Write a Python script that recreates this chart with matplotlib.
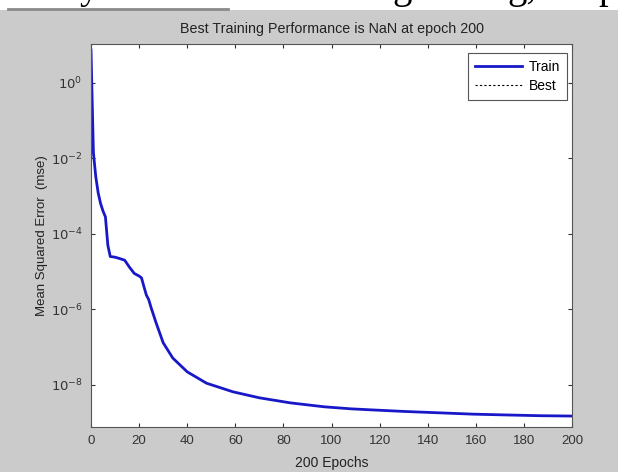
import numpy as np
import matplotlib
matplotlib.use("Agg")
import matplotlib.pyplot as plt
from matplotlib.patches import Rectangle
from matplotlib.lines import Line2D

# training record
epochs = [0, 1, 2, 3, 4, 5, 6, 7, 8, 10, 12, 14, 16, 18, 20, 21, 22, 23, 24, 25,
          27, 30, 34, 40, 48, 59, 70, 83, 97, 108, 117, 131, 145, 159, 173, 187, 200]
train_mse = [7.4, 1.4e-2, 3.2e-3, 1.2e-3, 6.3e-4, 4.0e-4, 2.8e-4, 5.0e-5, 2.5e-5,
             2.4e-5, 2.2e-5, 2.0e-5, 1.3e-5, 8.9e-6, 7.6e-6, 6.8e-6, 4.0e-6,
             2.4e-6, 1.8e-6, 1.1e-6, 4.5e-7, 1.3e-7, 5.1e-8, 2.2e-8, 1.1e-8,
             6.5e-9, 4.5e-9, 3.3e-9, 2.6e-9, 2.3e-9, 2.15e-9, 1.95e-9, 1.8e-9,
             1.66e-9, 1.58e-9, 1.51e-9, 1.48e-9]
best_epoch = [200]
best_mse = [np.nan]

title = "Best Training Performance is NaN at epoch 200"
xticks = list(range(0, 201, 20))
yticks = [1e0, 1e-2, 1e-4, 1e-6, 1e-8]

plt.rcParams['font.family'] = ['Liberation Sans', 'DejaVu Sans']

fig = plt.figure(figsize=(6.18, 4.72), dpi=100, facecolor='white')

# window background (gray) under a strip of page text
fig.patches.append(Rectangle((0, 0), 1, 1 - 10 / 472, transform=fig.transFigure,
                             facecolor='#cbcbcb', edgecolor='none', zorder=-10))
fig.lines.append(Line2D([8 / 618, 228 / 618], [1 - 9 / 472, 1 - 9 / 472],
                        transform=fig.transFigure, color='#8a8a8a', lw=2, zorder=-5))
for xp, s in [(80, 'y'), (392, 'g'), (507, 'g,'), (598, 'p')]:
    fig.text(xp / 618, 1.0 + 2 / 472, s, fontsize=28, family='Liberation Serif',
             ha='left', va='baseline', color='black')

ax = fig.add_axes([91 / 618, 45 / 472, 481 / 618, 383 / 472])
ax.set_facecolor('white')

ax.semilogy(epochs, train_mse, color='#1818c8', lw=2, label='Train')
ax.semilogy(best_epoch, best_mse, color='black', lw=0.8, ls=(0, (2, 2)), label='Best')

ax.set_xlim(0, 200)
ax.set_ylim(10 ** -9.12, 10 ** 1.03)
ax.set_xticks(xticks)
ax.set_yticks(yticks)
ax.set_yticklabels([r'$10^{%d}$' % int(np.log10(v)) for v in yticks])
ax.yaxis.set_minor_locator(matplotlib.ticker.NullLocator())
ax.tick_params(which='both', direction='in', top=True, right=True, length=3,
               width=0.8, labelsize=9.5, colors='#333333', pad=6)
for sp in ax.spines.values():
    sp.set_color('#555555')
    sp.set_linewidth(0.8)

ax.set_title(title, fontsize=10.3, color='#222222', pad=8)
ax.set_xlabel('200 Epochs', fontsize=10, color='#222222', labelpad=6)
ax.set_ylabel('Mean Squared Error  (mse)', fontsize=9.5, color='#222222', labelpad=2)

leg = ax.legend(loc='upper right', bbox_to_anchor=(0.9896, 0.977), borderaxespad=0,
                fontsize=10, fancybox=False, framealpha=1, edgecolor='#555555',
                handlelength=3.4, borderpad=0.5, labelspacing=0.4, handletextpad=0.5)
leg.get_frame().set_linewidth(0.8)

fig.savefig('out.png', dpi=100, facecolor=fig.get_facecolor())
